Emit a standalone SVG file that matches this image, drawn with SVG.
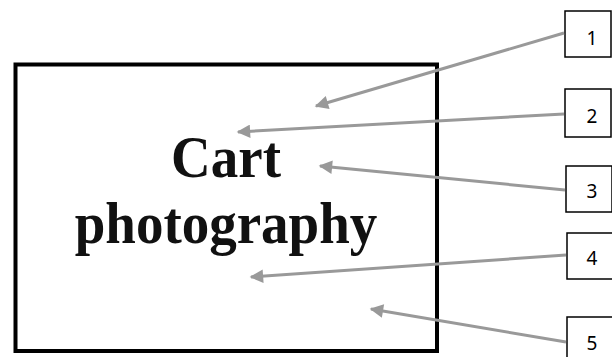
<svg xmlns="http://www.w3.org/2000/svg" width="612" height="357" viewBox="0 0 612 357">
<defs>
<marker id="ah" viewBox="0 0 10 10" refX="9" refY="5" markerWidth="5.5" markerHeight="4.5" markerUnits="strokeWidth" orient="auto">
<path d="M0,0 L10,5 L0,10 Z" fill="#999999"/>
</marker>
<style>
.box{fill:#ffffff;stroke:#000000;stroke-width:1.5}
.num{font-family:"Noto Sans","Open Sans",sans-serif;font-size:19px;fill:#000000;text-anchor:middle}
.arr{stroke:#999999;stroke-width:3;fill:none;marker-end:url(#ah)}
.title{font-family:"Liberation Serif","Times New Roman",serif;font-weight:bold;font-size:55px;fill:#111111;text-anchor:middle}
</style>
</defs>
<rect width="612" height="357" fill="#ffffff"/>
<g id="main">
<rect x="15.5" y="64.5" width="421.5" height="286.5" fill="none" stroke="#000000" stroke-width="4"/>
<text class="title" x="226" y="177" transform="translate(0,177) scale(1,1.06) translate(0,-177)">Cart</text>
<text class="title" x="226" y="243" transform="translate(0,243) scale(1,1.06) translate(0,-243)">photography</text>
</g>
<g id="label1"><rect class="box" x="565" y="11" width="46" height="46"/><text class="num" x="592" y="45">1</text></g>
<g id="label2"><rect class="box" x="565" y="89" width="46" height="48"/><text class="num" x="592" y="123">2</text></g>
<g id="label3"><rect class="box" x="566" y="166" width="46" height="46"/><text class="num" x="592" y="198">3</text></g>
<g id="label4"><rect class="box" x="567" y="233" width="46" height="46"/><text class="num" x="592" y="265">4</text></g>
<g id="label5"><rect class="box" x="567" y="317" width="46" height="46"/><text class="num" x="592" y="350">5</text></g>
<g id="connectors">
<line class="arr" x1="564" y1="33" x2="316" y2="106"/>
<line class="arr" x1="564" y1="114" x2="238" y2="132"/>
<line class="arr" x1="565" y1="190" x2="320" y2="166"/>
<line class="arr" x1="566" y1="255" x2="251" y2="277"/>
<line class="arr" x1="566" y1="342" x2="371" y2="309"/>
</g>
</svg>
